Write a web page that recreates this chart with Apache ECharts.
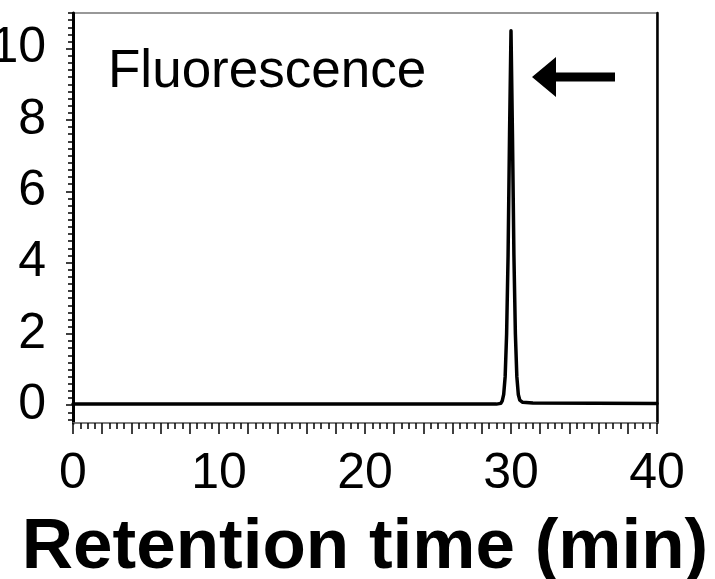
<!DOCTYPE html>
<html>
<head>
<meta charset="utf-8">
<script src="https://cdn.jsdelivr.net/npm/echarts@6/dist/echarts.min.js"></script>
<style>
    html, body { margin: 0; padding: 0; background: #fff; }
    #chart { width: 715px; height: 579px; }
</style>
</head>
<body>
<div id="chart"></div>
<script>
    // 保留时间 (min) 和荧光信号
    var retentionTime = [0, 29.0, 29.3, 29.4, 29.5, 29.6, 29.7, 29.8, 29.9, 30.0, 30.1, 30.2, 30.3, 30.4, 30.5, 30.6, 30.8, 31.5, 40];
    var fluorescence = [0.03, 0.03, 0.05, 0.12, 0.3, 0.8, 2.0, 4.2, 7.6, 10.5, 7.6, 4.2, 2.0, 0.8, 0.3, 0.14, 0.08, 0.06, 0.05];
    var xLabels = [0, 10, 20, 30, 40];
    var yLabels = [0, 2, 4, 6, 8, 10];

    // y 轴小刻度 每 0.2
    var yMinor = [];
    for (var i = -2; i <= 55; i++) {
        yMinor.push(Math.round(i * 0.2 * 10) / 10);
    }

    var points = [];
    for (var k = 0; k < retentionTime.length; k++) {
        points.push([retentionTime[k], fluorescence[k]]);
    }

    var font = "'Liberation Sans', Arial, sans-serif";
    var chart = echarts.init(document.getElementById('chart'));

    var option = {
        animation: false,
        title: {
            text: 'Fluorescence',
            left: 103,
            top: 41,
            textStyle: { fontFamily: font, fontSize: 53, fontWeight: 'normal', color: '#000' }
        },
        grid: {
            left: 73,
            right: 58,
            top: 13,
            bottom: 156,
            outerBoundsMode: 'none',
            show: true,
            borderColor: '#777',
            borderWidth: 1.5
        },
        xAxis: {
            type: 'value',
            min: 0,
            max: 40,
            interval: 2,
            name: 'Retention time (min)',
            nameLocation: 'middle',
            nameGap: 90,
            nameTextStyle: { fontFamily: font, fontSize: 71, fontWeight: 'bold', color: '#000' },
            axisLine: { show: true, onZero: false, lineStyle: { color: '#777', width: 1.5 } },
            axisTick: { show: true, length: 11, lineStyle: { color: '#000', width: 1.5 } },
            minorTick: { show: true, splitNumber: 4, length: 6, lineStyle: { color: '#000', width: 1.5 } },
            axisLabel: {
                margin: 26,
                fontFamily: font,
                fontSize: 50,
                color: '#000',
                formatter: function (v) {
                    return xLabels.indexOf(v) >= 0 ? String(v) : '';
                }
            },
            splitLine: { show: false }
        },
        yAxis: [{
            type: 'value',
            min: -0.5,
            max: 11,
            position: 'left',
            axisLine: { show: true, onZero: false, lineStyle: { color: '#000', width: 3 } },
            axisTick: { show: true, length: 7, customValues: yLabels, lineStyle: { color: '#000', width: 1.5 } },
            axisLabel: { margin: 27, padding: [6, 0, 0, 0], customValues: yLabels, fontFamily: font, fontSize: 50, color: '#000' },
            splitLine: { show: false }
        }, {
            type: 'value',
            min: -0.5,
            max: 11,
            position: 'left',
            axisLine: { show: false },
            axisTick: { show: true, length: 5, customValues: yMinor, lineStyle: { color: '#000', width: 1.5 } },
            axisLabel: { show: false },
            splitLine: { show: false }
        }, {
            type: 'value',
            min: -0.5,
            max: 11,
            position: 'right',
            axisLine: { show: true, onZero: false, lineStyle: { color: '#000', width: 2.5 } },
            axisTick: { show: false },
            axisLabel: { show: false },
            splitLine: { show: false }
        }],
        series: [{
            type: 'line',
            data: points,
            showSymbol: false,
            symbol: 'none',
            lineStyle: { color: '#000', width: 3.5, join: 'round', cap: 'round' }
        }],
        graphic: [{
            // 箭头
            type: 'polygon',
            shape: {
                points: [[532, 77], [556, 57], [556, 72.5], [615, 72.5], [615, 81.5], [556, 81.5], [556, 97]]
            },
            style: { fill: '#000' }
        }]
    };

    chart.setOption(option);
</script>
</body>
</html>
